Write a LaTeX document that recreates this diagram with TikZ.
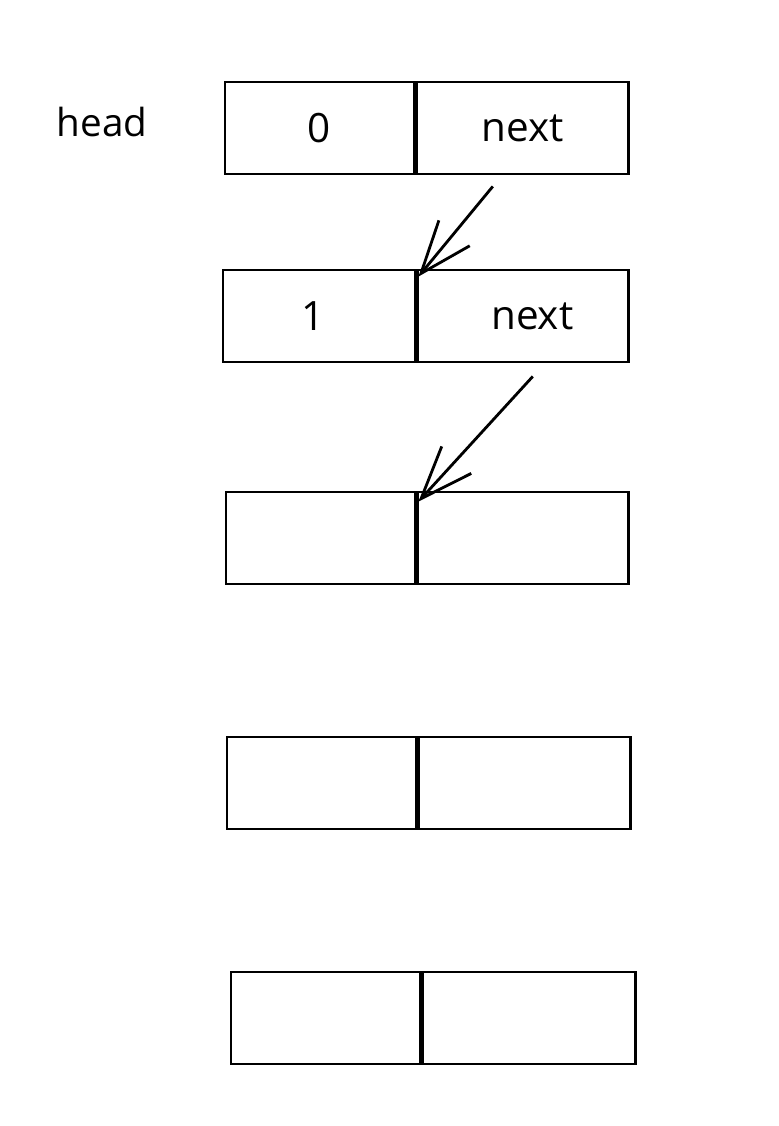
\documentclass[tikz,border=0pt]{standalone}
\usepackage{fontspec}
\setmainfont{Open Sans}
\usetikzlibrary{arrows.meta,positioning}
\tikzset{
    auto,
    cell/.style ={rectangle, draw, line width=1.6pt, inner sep=0pt,
                  minimum height=1.84cm, font=\fontsize{23}{27}\selectfont},
    ptr/.style = {-{Straight Barb[length=10.5mm,width=8mm]}, line width=1.6pt},
    lbl/.style = {font=\fontsize{22}{26}\selectfont}
}
\begin{document}
\begin{tikzpicture}
  \useasboundingbox (0,0) rectangle (15.56,-22.52);
  \node (head) at (2.04,-2.44) [lbl] {head};

  \node (val0) at (6.39,-2.56) [cell, minimum width=3.78cm] {0};
  \node (nxt0) [cell, right=0pt of val0, minimum width=4.24cm] {next};

  \node (val1) at (6.38,-6.32) [cell, minimum width=3.84cm] {\hspace*{-0.24cm}1};
  \node (nxt1) [cell, right=0pt of val1, minimum width=4.22cm] {\hspace*{0.36cm}next};

  \node (val2) at (6.41,-10.76) [cell, minimum width=3.78cm] {};
  \node (nxt2) [cell, right=0pt of val2, minimum width=4.22cm] {};

  \node (val3) at (6.43,-15.66) [cell, minimum width=3.78cm] {};
  \node (nxt3) [cell, right=0pt of val3, minimum width=4.24cm] {};

  \node (val4) at (6.51,-20.36) [cell, minimum width=3.78cm] {};
  \node (nxt4) [cell, right=0pt of val4, minimum width=4.26cm] {};

  \draw[ptr] ([shift={(-0.60,-0.22)}]nxt0.south) -- ([shift={(0.04,-0.16)}]nxt1.north west);
  \draw[ptr] ([shift={(0.19,-0.26)}]nxt1.south) -- ([shift={(0.04,-0.22)}]nxt2.north west);
\end{tikzpicture}
\end{document}
